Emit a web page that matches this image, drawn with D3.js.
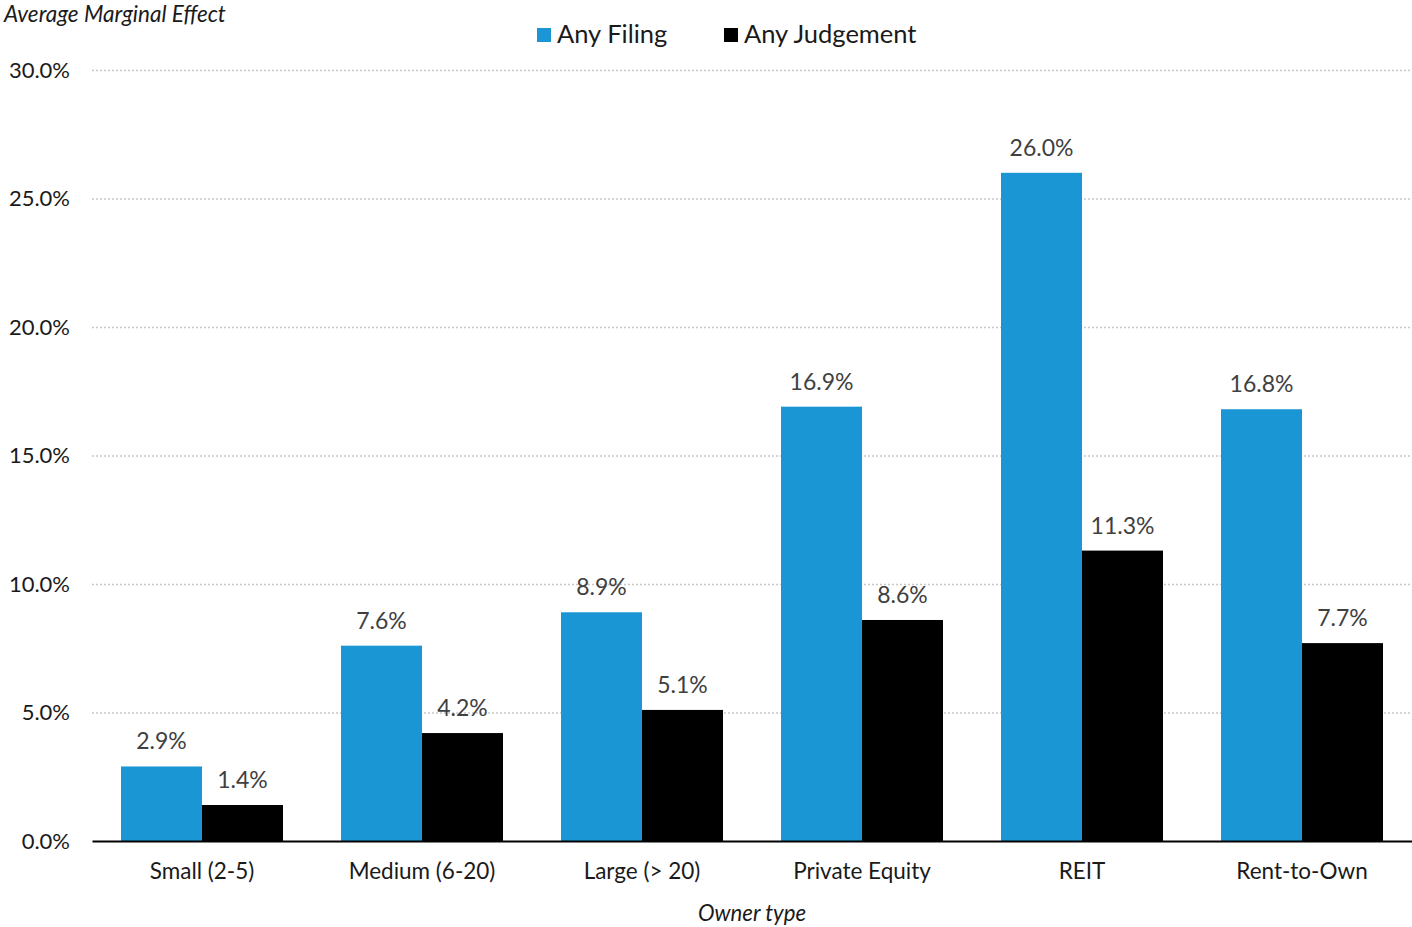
<!DOCTYPE html>
<html>
<head>
<meta charset="utf-8">
<script src="https://cdn.jsdelivr.net/npm/d3@7"></script>
<style>
  html, body { margin: 0; padding: 0; background: #fff; }
  svg { display: block; font-family: Lato, "Open Sans", sans-serif; }
</style>
</head>
<body>
<svg id="chart" width="1412" height="927"></svg>
<script>
// Owner types and average marginal effects (percent)
const categories = ["Small (2-5)", "Medium (6-20)", "Large (> 20)", "Private Equity", "REIT", "Rent-to-Own"];
const seriesNames = ["Any Filing", "Any Judgement"];
const anyFiling = [2.9, 7.6, 8.9, 16.9, 26.0, 16.8];
const anyJudgement = [1.4, 4.2, 5.1, 8.6, 11.3, 7.7];
const yTicks = [0, 5, 10, 15, 20, 25, 30];
const colors = ["#1996D3", "#000000"];

const svg = d3.select("#chart");
const margin = { left: 92, right: 0, top: 70, bottom: 86 };
const width = 1412, height = 927;

const x0 = d3.scaleBand().domain(categories).range([margin.left, width - margin.right]).padding(0);
const x1 = d3.scaleBand().domain(seriesNames).range([0, x0.bandwidth()]).paddingInner(0).paddingOuter(0.358);
const y = d3.scaleLinear().domain([0, 30]).range([height - margin.bottom, margin.top]);
const color = d3.scaleOrdinal().domain(seriesNames).range(colors);

const rows = categories.map((c, i) => ({ category: c, values: [
  { key: seriesNames[0], value: anyFiling[i] },
  { key: seriesNames[1], value: anyJudgement[i] }
]}));

// Dotted horizontal gridlines
const yAxis = d3.axisLeft(y).tickValues(yTicks).tickFormat(d => d.toFixed(1) + "%")
  .tickSize(-(width - margin.left - margin.right)).tickPadding(22);
const gy = svg.append("g").attr("transform", `translate(${margin.left},0)`).call(yAxis);
gy.select(".domain").remove();
gy.selectAll(".tick line")
  .attr("stroke", "#c8c8c8").attr("stroke-width", 1.6).attr("stroke-dasharray", "2,2")
  .filter(d => d === 0).remove();
gy.selectAll(".tick text").attr("font-size", 22).attr("fill", "#1a1a1a")
  .attr("font-family", "Lato, sans-serif");

// Bars
const groups = svg.append("g").selectAll("g").data(rows).join("g")
  .attr("transform", d => `translate(${x0(d.category)},0)`);
groups.selectAll("rect").data(d => d.values).join("rect")
  .attr("x", d => x1(d.key))
  .attr("width", x1.bandwidth())
  .attr("y", d => y(d.value))
  .attr("height", d => y(0) - y(d.value))
  .attr("fill", d => color(d.key));

// Value labels
groups.selectAll("text.val").data(d => d.values).join("text")
  .attr("class", "val")
  .attr("x", d => x1(d.key) + x1.bandwidth() / 2)
  .attr("y", d => y(d.value) - 17)
  .attr("text-anchor", "middle")
  .attr("font-size", 23)
  .attr("fill", "#404040")
  .text(d => d.value.toFixed(1) + "%");

// X axis baseline and category labels
const xAxis = d3.axisBottom(x0).tickSize(0).tickPadding(22);
const gx = svg.append("g").attr("transform", `translate(0,${y(0)})`).call(xAxis);
gx.select(".domain").attr("stroke", "#000").attr("stroke-width", 2.2);
gx.selectAll(".tick text").attr("font-size", 22.5).attr("fill", "#1a1a1a")
  .attr("font-family", "Lato, sans-serif");

// Axis titles
svg.append("text").attr("x", 752).attr("y", 921).attr("text-anchor", "middle")
  .attr("font-size", 22.2).attr("font-style", "italic").attr("fill", "#1a1a1a").text("Owner type");
svg.append("text").attr("x", 4).attr("y", 22)
  .attr("font-size", 22.5).attr("font-style", "italic").attr("fill", "#1a1a1a").text("Average Marginal Effect");

// Legend
const legendX = [537, 724];
const legend = svg.append("g").selectAll("g").data(seriesNames).join("g")
  .attr("transform", (d, i) => `translate(${legendX[i]},28)`);
legend.append("rect").attr("width", 14).attr("height", 14).attr("fill", d => color(d));
legend.append("text").attr("x", 20).attr("y", 15).attr("font-size", 25.5)
  .attr("fill", "#1a1a1a").text(d => d);
</script>
</body>
</html>
